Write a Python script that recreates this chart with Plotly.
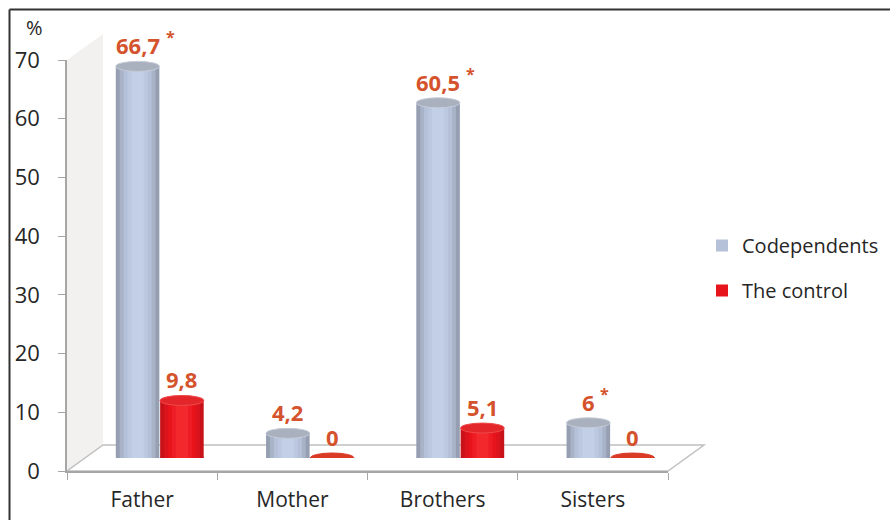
import plotly.graph_objects as go

# ---- data -------------------------------------------------------------
categories = ["Father", "Mother", "Brothers", "Sisters"]
codependents = [66.7, 4.2, 60.5, 6]
control = [9.8, 0, 5.1, 0]
codependents_marked = [True, False, True, True]   # significant difference (*)
control_marked = [False, False, False, False]
y_ticks = [0, 10, 20, 30, 40, 50, 60, 70]

# ---- geometry (pixels) ------------------------------------------------
W, H = 890, 520
FX0, FX1 = 67, 668          # front plane x extent
FY0, FY70 = 471, 60         # front plane y for 0 and 70
DX, DY = 36, 26             # depth offset of back plane
MX, MY = DX / 2, DY / 2     # bars stand in the middle of the depth

def px(x):
    return x / W

def py(y):
    return 1 - y / H

label_color = "#d4532d"
text_color = "#262626"
axis_color = "#a6a6a6"
font_family = "Open Sans, sans-serif"
LABEL_SIZE = 22

width_factors = [1.0, 0.82, 0.64, 0.46, 0.28]
series = [
    dict(name="Codependents", values=codependents, marked=codependents_marked,
         offset=-0.15, shades=["#969fb2", "#a8b3c8", "#b5c1d8", "#bbc8df", "#c2cfe6"],
         top="#a9b0be", top_line="#c6ccd8", zero="#a9b0be"),
    dict(name="The control", values=control, marked=control_marked,
         offset=0.145, shades=["#c8121a", "#da131c", "#e8141c", "#ee1c24", "#f2282c"],
         top="#e2262a", top_line="#ee4a4a", zero="#da3b27"),
]
BAR_W = 0.29


def text_width(s, size):
    # rough advance width of a bold numeric label
    return sum(0.6 * size if c.isdigit() else 0.3 * size for c in s)


fig = go.Figure()

# invisible trace that carries the front category axis
fig.add_trace(go.Scatter(x=categories, y=[0] * len(categories), mode="markers",
                         marker=dict(opacity=0), showlegend=False,
                         hoverinfo="skip", xaxis="x", yaxis="y"))

shapes = []
annotations = []

# back wall and floor of the 3-D box
shapes.append(dict(type="path", xref="paper", yref="paper", layer="below",
                   path=f"M {px(FX0)},{py(FY70)} L {px(FX0 + DX)},{py(FY70 - DY)} "
                        f"L {px(FX0 + DX)},{py(FY0 - DY)} L {px(FX0)},{py(FY0)} Z",
                   fillcolor="#f3f1ef", line=dict(width=0)))
shapes.append(dict(type="path", xref="paper", yref="paper", layer="below",
                   path=f"M {px(FX0)},{py(FY0)} L {px(FX1)},{py(FY0)} "
                        f"L {px(FX1 + DX)},{py(FY0 - DY)} L {px(FX0 + DX)},{py(FY0 - DY)} Z",
                   fillcolor="white", line=dict(color="#c0c0c0", width=1.5)))

for s in series:
    xs = [i + s["offset"] for i in range(len(categories))]
    # cylinder body: stacked bars of decreasing width give the rounded shading
    for k, (wf, col) in enumerate(zip(width_factors, s["shades"])):
        fig.add_trace(go.Bar(
            x=xs, y=s["values"], width=BAR_W * wf, marker=dict(color=col, line=dict(width=0)),
            name=s["name"], legendgroup=s["name"], showlegend=(k == 2),
            hoverinfo="skip", xaxis="x2", yaxis="y2"))
    for x, v, m in zip(xs, s["values"], s["marked"]):
        if v > 0:
            # rounded bottom
            shapes.append(dict(type="circle", xref="x2", yref="y2", layer="below",
                               ysizemode="pixel", yanchor=0, y0=-5, y1=5,
                               x0=x - BAR_W / 2, x1=x + BAR_W / 2,
                               fillcolor=s["shades"][1], line=dict(width=0)))
        # top face
        shapes.append(dict(type="circle", xref="x2", yref="y2", layer="above",
                           ysizemode="pixel", yanchor=v, y0=-5, y1=5,
                           x0=x - BAR_W / 2, x1=x + BAR_W / 2,
                           fillcolor=s["top"] if v > 0 else s["zero"],
                           line=dict(color=s["top_line"] if v > 0 else s["zero"], width=1)))
        txt = f"{v:g}".replace(".", ",")
        annotations.append(dict(x=x, y=v, xref="x2", yref="y2", text=txt,
                                showarrow=False, yshift=21,
                                font=dict(family=font_family, size=LABEL_SIZE,
                                          color=label_color, weight="bold")))
        if m:
            annotations.append(dict(x=x, y=v, xref="x2", yref="y2", text="*",
                                    showarrow=False, xanchor="left",
                                    xshift=text_width(txt, LABEL_SIZE) / 2 + 3, yshift=29,
                                    font=dict(family=font_family, size=16,
                                              color=label_color, weight="bold")))

# unit label above the value axis
annotations.append(dict(x=px(34), y=py(27), xref="paper", yref="paper", text="%",
                        showarrow=False, xanchor="center", yanchor="middle",
                        font=dict(family=font_family, size=20, color=text_color)))

# frame lines along the top and left edges
shapes.append(dict(type="line", xref="paper", yref="paper", x0=px(9.5), x1=1,
                   y0=py(9.5), y1=py(9.5), line=dict(color="#333333", width=2)))
shapes.append(dict(type="line", xref="paper", yref="paper", x0=px(9.5), x1=px(9.5),
                   y0=py(9.5), y1=0, line=dict(color="#333333", width=2)))

fig.update_layout(
    width=W, height=H, autosize=False,
    margin=dict(l=0, r=0, t=0, b=0, pad=0),
    paper_bgcolor="white", plot_bgcolor="rgba(0,0,0,0)",
    barmode="overlay", showlegend=True,
    font=dict(family=font_family, color=text_color),
    xaxis=dict(domain=[px(FX0), px(FX1)], type="category", categoryarray=categories,
               range=[-0.5, 3.5], tickson="boundaries", ticks="outside", ticklen=7,
               tickcolor=axis_color, showline=True, linecolor=axis_color, linewidth=1.5,
               showgrid=False, zeroline=False, tickfont=dict(size=21, color=text_color),
               ticklabelstandoff=9, anchor="y", fixedrange=True, automargin=False),
    yaxis=dict(domain=[py(FY0), py(FY70)], range=[0, 70], tickvals=y_ticks,
               ticks="outside", ticklen=7, tickcolor=axis_color, showline=True,
               linecolor=axis_color, linewidth=1.5, showgrid=False, zeroline=False,
               tickfont=dict(size=22, color=text_color), ticklabelstandoff=14,
               anchor="x", fixedrange=True, automargin=False),
    xaxis2=dict(domain=[px(FX0 + MX), px(FX1 + MX)], range=[-0.5, 3.5], visible=False,
                anchor="y2", fixedrange=True, automargin=False),
    yaxis2=dict(domain=[py(FY0 - MY), py(FY70 - MY)], range=[0, 70], visible=False,
                anchor="x2", fixedrange=True, automargin=False),
    legend=dict(x=px(702), y=py(226), xanchor="left", yanchor="top",
                traceorder="grouped", tracegroupgap=16, bgcolor="rgba(0,0,0,0)",
                font=dict(size=20, color=text_color)),
    shapes=shapes, annotations=annotations,
)

fig.write_html("out.html")
